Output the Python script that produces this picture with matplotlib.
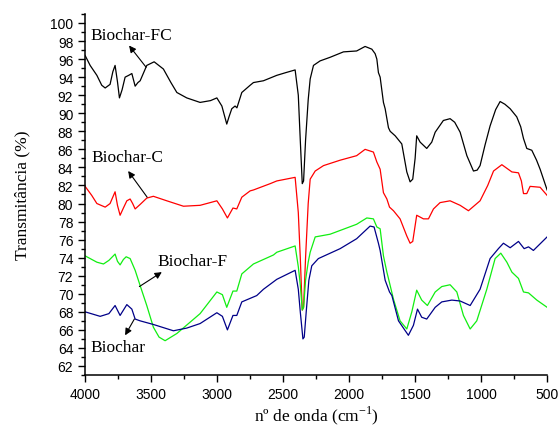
import matplotlib
matplotlib.use('Agg')
import matplotlib.pyplot as plt
from matplotlib.ticker import MultipleLocator

# wavenumber (cm-1) / transmittance (%)
fc_wn = [4000, 3962, 3911, 3874, 3848, 3811, 3790, 3773, 3755, 3740, 3720, 3697, 3670, 3646,
         3621, 3600, 3583, 3533, 3477, 3407, 3350, 3305, 3230, 3129, 3050, 3002, 2964, 2940,
         2927, 2910, 2889, 2864, 2850, 2813, 2750, 2725, 2649, 2548, 2480, 2409, 2385, 2370,
         2355, 2345, 2330, 2310, 2295, 2270, 2220, 2144, 2043, 1943, 1879, 1828, 1803, 1790,
         1778, 1765, 1740, 1727, 1702, 1689, 1651, 1601, 1563, 1538, 1518, 1500, 1488, 1462,
         1412, 1374, 1348, 1286, 1235, 1200, 1159, 1108, 1058, 1030, 1008, 970, 932, 890, 856,
         820, 780, 730, 700, 679, 654, 616, 580, 553, 500]
fc_t = [96.4, 95.3, 94.2, 93.1, 92.8, 93.2, 94.6, 95.3, 93.5, 91.7, 92.6, 94.0, 94.2, 94.4,
        93.0, 93.4, 93.6, 95.3, 95.7, 94.9, 93.4, 92.3, 91.7, 91.2, 91.4, 91.7, 90.8, 89.5,
        88.8, 89.6, 90.5, 90.8, 90.6, 92.3, 93.1, 93.4, 93.6, 94.2, 94.5, 94.8, 92.0, 87.0,
        82.2, 82.5, 87.0, 91.5, 93.8, 95.3, 95.8, 96.2, 96.8, 96.9, 97.4, 97.1, 96.6, 96.0,
        94.5, 94.0, 91.2, 90.5, 88.4, 88.0, 87.5, 86.6, 83.5, 82.4, 82.7, 85.0, 87.5, 86.8,
        86.1, 86.8, 87.9, 89.2, 89.4, 89.0, 87.9, 85.3, 83.6, 83.7, 84.2, 86.5, 88.6, 90.4, 91.3,
        91.0, 90.5, 89.6, 88.5, 87.2, 86.1, 85.9, 84.8, 83.8, 81.5]

c_wn = [4000, 3950, 3911, 3848, 3811, 3773, 3755, 3735, 3710, 3684, 3659, 3640, 3621, 3583,
        3533, 3483, 3381, 3255, 3129, 3002, 2960, 2922, 2880, 2851, 2813, 2750, 2725, 2598,
        2548, 2409, 2385, 2370, 2355, 2345, 2330, 2310, 2295, 2257, 2194, 2068, 1943, 1879,
        1816, 1790, 1765, 1740, 1714, 1694, 1664, 1614, 1563, 1538, 1518, 1488, 1437, 1399,
        1361, 1311, 1235, 1159, 1096, 1008, 950, 906, 843, 767, 717, 695, 679, 654, 629, 553, 500]
c_t = [81.9, 80.9, 80.0, 79.6, 80.0, 81.3, 79.8, 78.7, 79.5, 80.3, 80.5, 80.0, 79.4, 79.9,
       80.6, 80.8, 80.3, 79.7, 79.8, 80.3, 79.4, 78.4, 79.5, 79.4, 80.7, 81.4, 81.5, 82.2,
       82.5, 82.9, 79.0, 74.0, 68.2, 68.5, 74.0, 80.0, 82.7, 83.6, 84.2, 84.8, 85.3, 86.0,
       85.7, 84.6, 83.8, 81.2, 80.5, 79.6, 79.2, 78.3, 76.4, 75.6, 75.8, 78.7, 78.3, 78.3,
       79.4, 80.1, 80.3, 79.8, 79.2, 80.3, 82.0, 83.6, 84.3, 83.5, 83.4, 82.5, 81.1, 81.1, 81.9,
       81.8, 80.9]

f_wn = [4000, 3911, 3861, 3820, 3773, 3755, 3735, 3710, 3689, 3659, 3621, 3583, 3533, 3483,
        3440, 3394, 3305, 3129, 3002, 2960, 2927, 2880, 2851, 2813, 2725, 2573, 2548, 2409,
        2385, 2370, 2355, 2345, 2330, 2310, 2295, 2257, 2144, 1943, 1866, 1816, 1790, 1765,
        1740, 1714, 1702, 1664, 1614, 1563, 1525, 1488, 1450, 1407, 1348, 1298, 1235, 1184,
        1134, 1083, 1033, 957, 894, 851, 805, 767, 717, 679, 641, 578, 500]
f_t = [74.2, 73.5, 73.3, 73.7, 74.4, 73.6, 73.2, 73.8, 74.1, 73.9, 72.6, 70.9, 68.7, 66.3,
       65.2, 64.8, 65.6, 67.8, 70.2, 69.9, 68.5, 70.3, 70.3, 72.2, 73.3, 74.3, 74.6, 75.3,
       73.0, 71.0, 68.2, 68.5, 71.5, 73.5, 74.6, 76.3, 76.6, 77.7, 78.4, 78.3, 77.4, 77.2,
       74.2, 72.4, 71.7, 69.4, 67.0, 66.1, 68.0, 70.4, 69.3, 68.7, 70.2, 70.8, 71.0, 70.2,
       67.6, 66.1, 67.0, 70.5, 73.9, 74.5, 73.5, 72.4, 71.7, 70.2, 70.1, 69.3, 68.5]

b_wn = [4000, 3886, 3820, 3773, 3735, 3684, 3646, 3621, 3583, 3483, 3331, 3230, 3129, 3002,
        2960, 2922, 2880, 2851, 2813, 2700, 2649, 2548, 2409, 2385, 2370, 2350, 2340, 2325,
        2305, 2283, 2233, 2068, 1943, 1841, 1811, 1778, 1765, 1727, 1694, 1676, 1626, 1551,
        1513, 1482, 1450, 1412, 1348, 1298, 1222, 1159, 1083, 1008, 932, 869, 831, 780, 717,
        674, 641, 604, 500]
b_t = [68.0, 67.5, 67.8, 68.7, 67.6, 68.8, 68.3, 67.2, 67.0, 66.6, 65.9, 66.2, 66.7, 67.9,
       67.5, 66.0, 67.6, 67.6, 69.1, 69.8, 70.5, 71.6, 72.6, 70.5, 68.0, 65.0, 65.2, 68.0,
       71.5, 73.1, 73.9, 75.0, 76.1, 77.5, 77.4, 75.6, 74.8, 71.5, 70.2, 69.8, 67.0, 65.4,
       66.5, 68.3, 67.4, 67.2, 68.5, 69.1, 69.3, 69.2, 68.7, 70.5, 73.9, 75.0, 75.6, 75.1, 75.8,
       75.0, 75.2, 74.8, 76.3]

labels = ['Biochar-FC', 'Biochar-C', 'Biochar-F', 'Biochar']
# (text position, arrow head, arrow tail) in data units
label_pos = [(3960, 98.7), (3955, 85.1), (3455, 73.6), (3957, 64.1)]
arrow_head = [(3667, 97.5), (3674, 83.6), (3419, 72.4), (3697, 65.4)]
arrow_tail = [(3538, 95.1), (3530, 80.7), (3589, 70.8), (3627, 67.2)]

plt.rcParams['font.family'] = ['Liberation Sans', 'DejaVu Sans']
plt.rcParams['mathtext.fontset'] = 'custom'
plt.rcParams['mathtext.rm'] = 'Liberation Serif'

fig = plt.figure(figsize=(5.6, 4.35), dpi=100)
ax = fig.add_axes([0.152, 0.1356, 0.825, 0.83])

ax.plot(fc_wn, fc_t, color='black', lw=0.9)
ax.plot(c_wn, c_t, color='#ff0000', lw=0.9)
ax.plot(f_wn, f_t, color='#11ee11', lw=0.9)
ax.plot(b_wn, b_t, color='#000088', lw=0.9)

serif = ['Liberation Serif', 'DejaVu Serif']
for lab, pos, head, tail in zip(labels, label_pos, arrow_head, arrow_tail):
    ax.text(pos[0], pos[1], lab, family=serif, fontsize=12.5, va='center', ha='left')
    ax.annotate('', xy=head, xytext=tail,
                arrowprops=dict(arrowstyle='-|>', color='black', lw=0.8,
                                mutation_scale=10, shrinkA=0, shrinkB=0))

ax.set_xlim(4000, 500)
ax.set_ylim(61, 101)
ax.xaxis.set_major_locator(MultipleLocator(500))
ax.xaxis.set_minor_locator(MultipleLocator(250))
ax.yaxis.set_major_locator(MultipleLocator(2))
ax.yaxis.set_minor_locator(MultipleLocator(1))
ax.set_yticks(range(62, 101, 2))
ax.tick_params(which='major', direction='out', length=5, width=1, labelsize=10)
ax.tick_params(which='minor', direction='out', length=3, width=1)
for side in ['top', 'right']:
    ax.spines[side].set_visible(False)
for side in ['left', 'bottom']:
    ax.spines[side].set_linewidth(1.1)

ax.set_xlabel(r'nº de onda (cm$^{\mathregular{-1}}$)', family=serif, fontsize=12.5, labelpad=2)
ax.set_ylabel('Transmitância (%)', family=serif, fontsize=12.5, labelpad=14)

fig.savefig('out.png', dpi=100)
